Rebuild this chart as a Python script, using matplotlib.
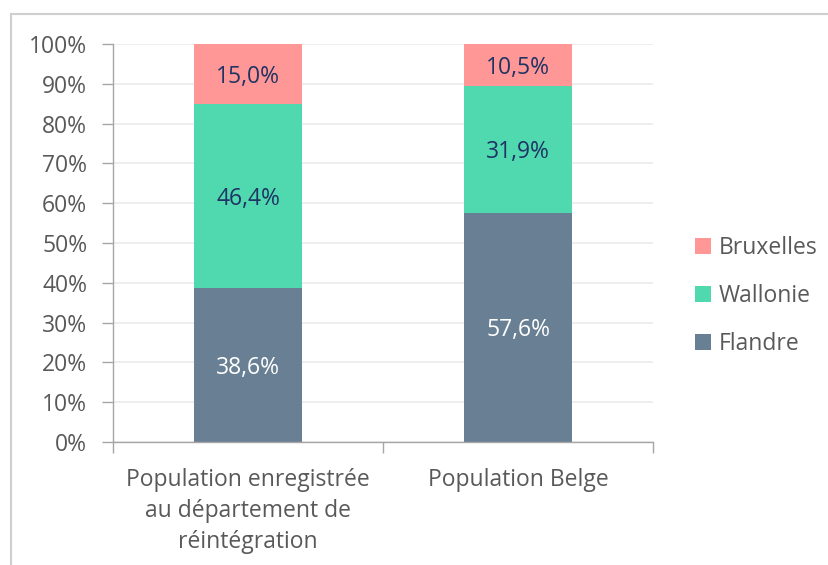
import matplotlib
matplotlib.use("Agg")
import matplotlib.pyplot as plt
from matplotlib.lines import Line2D
from matplotlib.patches import Patch
from matplotlib.transforms import ScaledTranslation

plt.rcParams['font.family'] = ['Open Sans', 'DejaVu Sans']

categories = ["Population enregistrée\nau département de\nréintégration", "Population Belge"]
series_names = ["Flandre", "Wallonie", "Bruxelles"]
flandre = [38.6, 57.6]
wallonie = [46.4, 31.9]
bruxelles = [15.0, 10.5]
yticks = [0, 10, 20, 30, 40, 50, 60, 70, 80, 90, 100]

colors = {"Flandre": "#687F94", "Wallonie": "#50D9AE", "Bruxelles": "#FF9797"}
label_colors = {"Flandre": "#FFFFFF", "Wallonie": "#1F3364", "Bruxelles": "#1F3364"}
gray_text = "#595959"
fs = 16.5

W, H = 829, 565
fig = plt.figure(figsize=(W / 100, H / 100), dpi=100)
ax = fig.add_axes([113 / W, 1 - 442 / H, (653 - 113) / W, (442 - 44) / H])

# value labels sit a touch below the geometric centre of each segment
label_shift = ax.transData + ScaledTranslation(0, -3 / 100, fig.dpi_scale_trans)

x = [0, 1]
values = {"Flandre": flandre, "Wallonie": wallonie, "Bruxelles": bruxelles}
bottom = [0.0, 0.0]
for name in series_names:
    vals = values[name]
    ax.bar(x, vals, width=0.4, bottom=bottom, color=colors[name], zorder=2)
    for i, v in enumerate(vals):
        ax.text(x[i], bottom[i] + v / 2, f"{v:.1f}%".replace(".", ","),
                ha="center", va="center", fontsize=fs, color=label_colors[name],
                zorder=3, transform=label_shift)
    bottom = [b + v for b, v in zip(bottom, vals)]

ax.set_xlim(-0.5, 1.5)
ax.set_ylim(0, 100)
ax.set_yticks(yticks)
ax.set_yticklabels([f"{t}%" for t in yticks])
ax.yaxis.grid(True, color="#EBEBEB", linewidth=1.2, zorder=0)
ax.set_axisbelow(True)

ax.set_xticks([-0.5, 0.5, 1.5], minor=False)
ax.set_xticklabels([])
ax.set_xticks(x, minor=True)
ax.set_xticklabels(categories, minor=True, fontsize=fs, color=gray_text, linespacing=1.37)
ax.tick_params(axis="x", which="minor", length=0, pad=19)
ax.tick_params(axis="x", which="major", length=8, color="#A6A6A6", width=1)
ax.tick_params(axis="y", length=8, color="#A6A6A6", width=1, labelsize=fs,
               labelcolor=gray_text, pad=10.5)

for side in ("top", "right"):
    ax.spines[side].set_visible(False)
for side in ("left", "bottom"):
    ax.spines[side].set_color("#A6A6A6")
    ax.spines[side].set_linewidth(1)

handles = [Patch(facecolor=colors[n], edgecolor="none") for n in reversed(series_names)]
fig.legend(handles, list(reversed(series_names)), loc="center left",
           bbox_to_anchor=(674 / W, 1 - 296 / H), frameon=False,
           fontsize=fs, labelcolor=gray_text, handlelength=0.7, handleheight=0.7,
           handletextpad=0.35, labelspacing=1.05)

# outer chart border
fig.add_artist(Line2D([11 / W, 11 / W], [-0.05, 1 - 14 / H], transform=fig.transFigure,
                      color="#CFCFCF", linewidth=1.5))
fig.add_artist(Line2D([11 / W, 1.05], [1 - 14 / H, 1 - 14 / H], transform=fig.transFigure,
                      color="#CFCFCF", linewidth=1.5))

fig.savefig("out.png", dpi=100)
